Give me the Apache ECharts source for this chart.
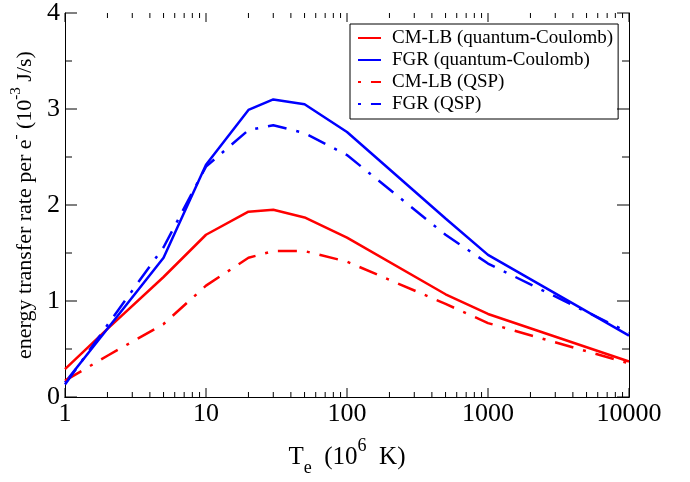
<!DOCTYPE html>
<html>
<head>
<meta charset="utf-8">
<script src="https://cdn.jsdelivr.net/npm/echarts@6/dist/echarts.min.js"></script>
<style>
html,body{margin:0;padding:0;background:#fff;}
#c{width:690px;height:482px;}
</style>
</head>
<body>
<div id="c"></div>
<script>
// Temperature T_e (10^6 K)
const temps = [1, 2, 5, 10, 20, 30, 50, 100, 500, 1000, 10000];
// energy transfer rate per e- (10^-3 J/s)
const cmlbQC = [0.29, 0.71, 1.25, 1.69, 1.93, 1.95, 1.87, 1.66, 1.07, 0.865, 0.37];
const fgrQC  = [0.15, 0.71, 1.45, 2.42, 2.99, 3.10, 3.05, 2.76, 1.86, 1.48, 0.64];
const cmlbQSP = [0.17, 0.43, 0.76, 1.16, 1.45, 1.52, 1.52, 1.41, 0.97, 0.77, 0.35];
const fgrQSP  = [0.13, 0.75, 1.56, 2.40, 2.78, 2.83, 2.75, 2.52, 1.69, 1.39, 0.67];

const seriesNames = ['CM-LB (quantum-Coulomb)', 'FGR (quantum-Coulomb)', 'CM-LB (QSP)', 'FGR (QSP)'];
// tick values
const majorX = [1, 10, 100, 1000, 10000];
const minorX = [2, 3, 4, 5, 6, 7, 8, 9, 20, 30, 40, 50, 60, 70, 80, 90,
                200, 300, 400, 500, 600, 700, 800, 900, 2000, 3000, 4000, 5000, 6000, 7000, 8000, 9000];
const majorY = [0, 1, 2, 3, 4];
const minorY = [0.5, 1.5, 2.5, 3.5];

const FONT = 'Liberation Serif';
const X_MIN = 1, X_MAX = 10000, Y_MIN = 0, Y_MAX = 4;
const pairs = arr => temps.map((t, i) => [t, arr[i]]);
const dashDot = [19, 10, 3, 10];

const chart = echarts.init(document.getElementById('c'));

// tick marks drawn through the axes' own scales (inside, on all four sides)
function xTicks(values, len) {
  return {
    type: 'custom', silent: true, clip: false, z: 5, xAxisIndex: 0, yAxisIndex: 0,
    data: values.map(v => [v, Y_MIN]),
    renderItem: function (params, api) {
      const b = api.coord([api.value(0), Y_MIN]);
      const t = api.coord([api.value(0), Y_MAX]);
      const st = { stroke: '#000', lineWidth: 1 };
      return { type: 'group', children: [
        { type: 'line', shape: { x1: b[0], y1: b[1], x2: b[0], y2: b[1] - len }, style: st },
        { type: 'line', shape: { x1: t[0], y1: t[1], x2: t[0], y2: t[1] + len }, style: st }
      ] };
    }
  };
}
function yTicks(values, len) {
  return {
    type: 'custom', silent: true, clip: false, z: 5, xAxisIndex: 0, yAxisIndex: 0,
    data: values.map(v => [X_MIN, v]),
    renderItem: function (params, api) {
      const l = api.coord([X_MIN, api.value(1)]);
      const r = api.coord([X_MAX, api.value(1)]);
      const st = { stroke: '#000', lineWidth: 1 };
      return { type: 'group', children: [
        { type: 'line', shape: { x1: l[0], y1: l[1], x2: l[0] + len, y2: l[1] }, style: st },
        { type: 'line', shape: { x1: r[0], y1: r[1], x2: r[0] - len, y2: r[1] }, style: st }
      ] };
    }
  };
}

const option = {
  animation: false,
  backgroundColor: '#fff',
  grid: { left: 65, right: 61, top: 10, bottom: 80, containLabel: false },
  legend: {
    left: 350, top: 24, orient: 'vertical',
    backgroundColor: '#fff', borderColor: '#000', borderWidth: 1, borderRadius: 0,
    padding: [3, 5, 4, 7],
    itemWidth: 23, itemHeight: 10, itemGap: 0,
    lineStyle: { dashOffset: 29 },
    textStyle: { fontFamily: FONT, fontSize: 19, color: '#000', lineHeight: 22, padding: [0, 0, 0, 6] },
    data: seriesNames.map(n => ({ name: n, itemStyle: { opacity: 0 } }))
  },
  xAxis: [{
    type: 'log', logBase: 10, min: X_MIN, max: X_MAX, position: 'bottom',
    axisLine: { show: true, lineStyle: { color: '#000', width: 1 } },
    axisTick: { show: false },
    axisLabel: { fontFamily: FONT, fontSize: 26, color: '#000', margin: 4,
      formatter: v => String(Math.round(v)) },
    splitLine: { show: false },
    name: '{n|T}{sub|e}{n|  (10}{sup|6}{n|  K)}',
    nameLocation: 'middle', nameGap: 40,
    nameTextStyle: {
      rich: {
        n: { fontFamily: FONT, fontSize: 25, color: '#000', lineHeight: 40 },
        sub: { fontFamily: FONT, fontSize: 18, color: '#000', lineHeight: 16, verticalAlign: 'bottom' },
        sup: { fontFamily: FONT, fontSize: 18, color: '#000', lineHeight: 24, verticalAlign: 'top' }
      }
    }
  }, {
    type: 'log', logBase: 10, min: X_MIN, max: X_MAX, position: 'top',
    axisLine: { show: true, lineStyle: { color: '#000', width: 1 } },
    axisTick: { show: false }, axisLabel: { show: false }, splitLine: { show: false }
  }],
  yAxis: [{
    type: 'value', min: Y_MIN, max: Y_MAX, interval: 1, position: 'left',
    axisLine: { show: true, lineStyle: { color: '#000', width: 1 } },
    axisTick: { show: false },
    axisLabel: { fontFamily: FONT, fontSize: 26, color: '#000', margin: 5 },
    splitLine: { show: false },
    name: '{n|energy transfer rate per e}{sup|-}{n| (10}{sup|-3}{n| J/s)}',
    nameLocation: 'middle', nameRotate: 90, nameGap: 21,
    nameTextStyle: {
      rich: {
        n: { fontFamily: FONT, fontSize: 22, color: '#000', lineHeight: 34 },
        sup: { fontFamily: FONT, fontSize: 15, color: '#000', lineHeight: 20, verticalAlign: 'top' }
      }
    }
  }, {
    type: 'value', min: Y_MIN, max: Y_MAX, interval: 1, position: 'right',
    axisLine: { show: true, lineStyle: { color: '#000', width: 1 } },
    axisTick: { show: false }, axisLabel: { show: false }, splitLine: { show: false }
  }],
  series: [
    { name: seriesNames[0], type: 'line', symbol: 'none', data: pairs(cmlbQC), color: '#ff0000',
      lineStyle: { color: '#ff0000', width: 2.5 } },
    { name: seriesNames[1], type: 'line', symbol: 'none', data: pairs(fgrQC), color: '#0000ff',
      lineStyle: { color: '#0000ff', width: 2.5 } },
    { name: seriesNames[2], type: 'line', symbol: 'none', data: pairs(cmlbQSP), color: '#ff0000',
      lineStyle: { color: '#ff0000', width: 2.5, type: dashDot } },
    { name: seriesNames[3], type: 'line', symbol: 'none', data: pairs(fgrQSP), color: '#0000ff',
      lineStyle: { color: '#0000ff', width: 2.5, type: dashDot } },
    xTicks(majorX, 9),
    xTicks(minorX, 5),
    yTicks(majorY, 12),
    yTicks(minorY, 7)
  ]
};
chart.setOption(option);
</script>
</body>
</html>
